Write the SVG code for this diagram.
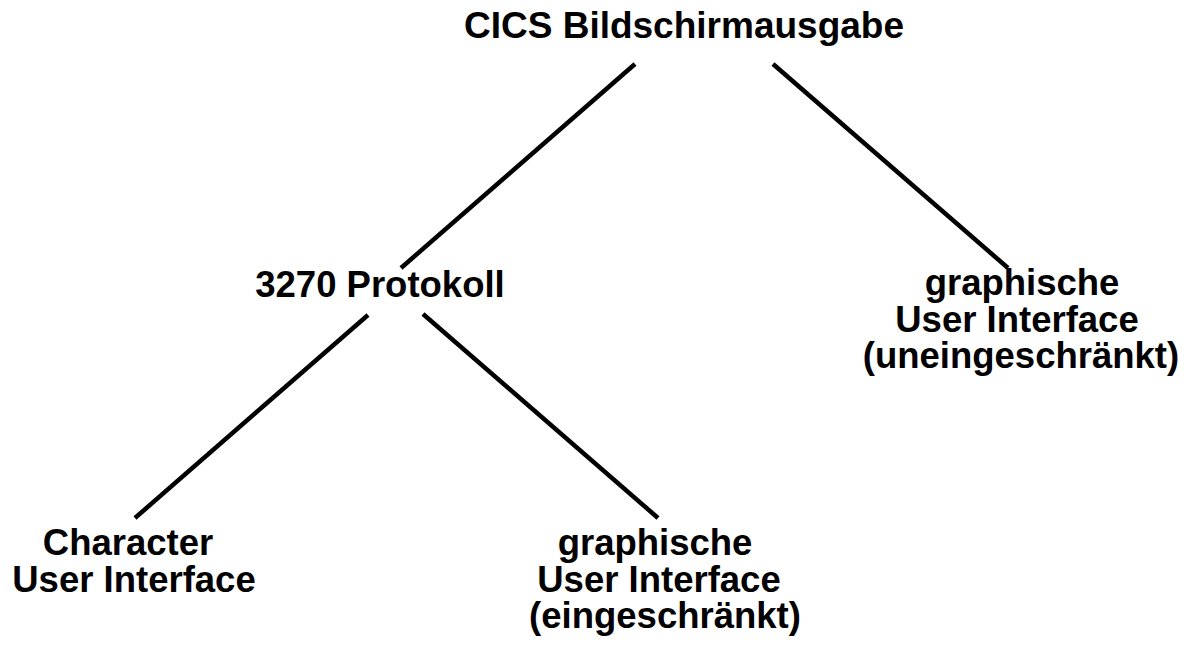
<svg xmlns="http://www.w3.org/2000/svg" width="1193" height="652" viewBox="0 0 1193 652">
<style>
text{font-family:"Liberation Sans",Arial,sans-serif;font-weight:bold;font-size:36.5px;fill:#000;text-anchor:middle}
.c line{stroke:#000;stroke-width:4.5;stroke-linecap:butt}
</style>
<rect width="1193" height="652" fill="#fff"/>
<g class="c" id="connectors">
<line x1="635" y1="64" x2="401" y2="268"/>
<line x1="773" y1="64" x2="1008" y2="268"/>
<line x1="368" y1="315" x2="135" y2="518"/>
<line x1="423" y1="314" x2="658" y2="518"/>
</g>
<g id="root"><text x="684" y="38" style="font-size:37px">CICS Bildschirmausgabe</text></g>
<g id="protokoll"><text x="380" y="297">3270 Protokoll</text></g>
<g id="gui-uneingeschraenkt">
<text x="1022" y="295">graphische</text>
<text x="1017" y="332">User Interface</text>
<text x="1021" y="368">(uneingeschränkt)</text>
</g>
<g id="cui">
<text x="128" y="555">Character</text>
<text x="134" y="592">User Interface</text>
</g>
<g id="gui-eingeschraenkt">
<text x="655" y="555">graphische</text>
<text x="659" y="592">User Interface</text>
<text x="665" y="628">(eingeschränkt)</text>
</g>
</svg>
